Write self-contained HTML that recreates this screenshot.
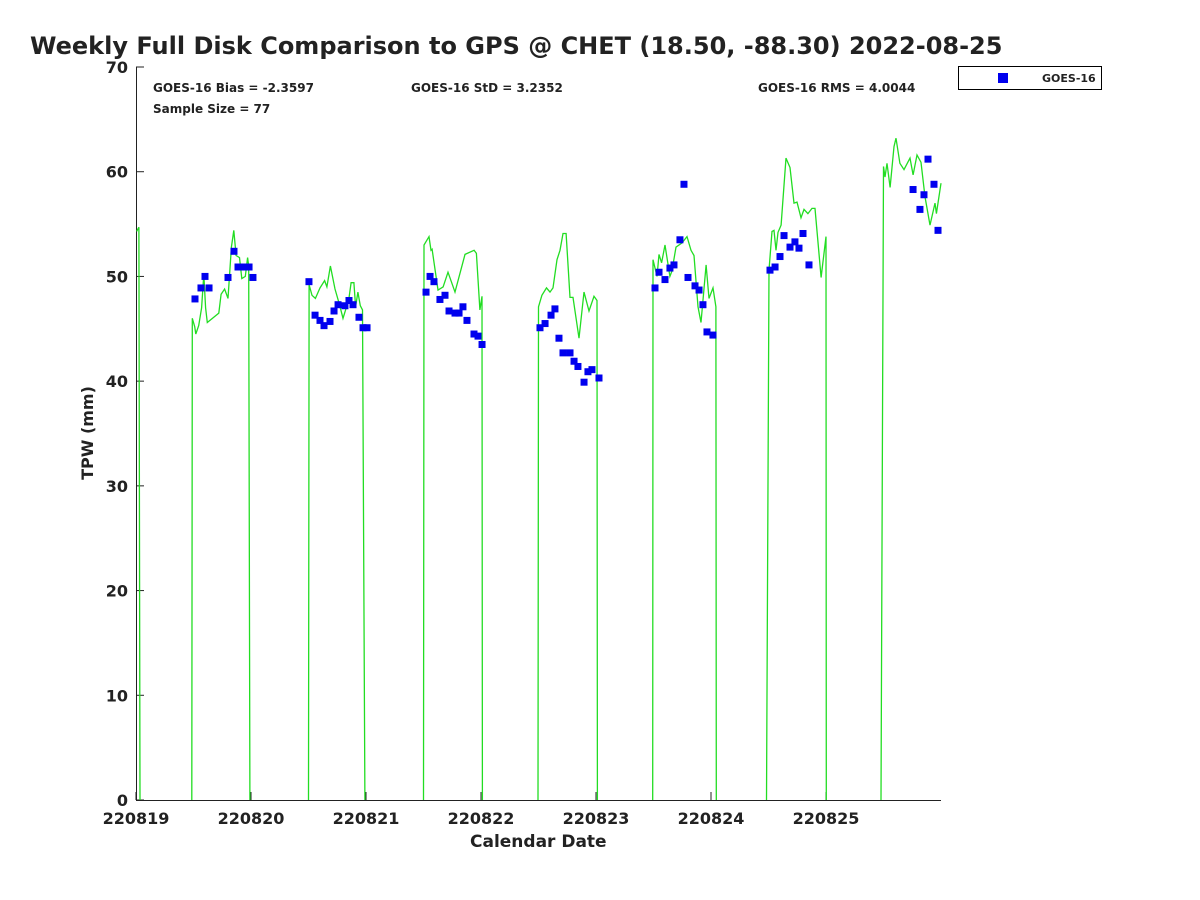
<!DOCTYPE html>
<html><head><meta charset="utf-8"><style>
html,body{margin:0;padding:0;background:#fff;width:1200px;height:900px;overflow:hidden}
svg text{font-family:"DejaVu Sans","Liberation Sans",sans-serif;font-weight:bold;fill:#222}
</style></head><body>
<svg id="chart" width="1200" height="900" xmlns="http://www.w3.org/2000/svg">
<text x="30" y="54" font-size="24" fill="#000">Weekly Full Disk Comparison to GPS @ CHET (18.50, -88.30) 2022-08-25</text>
<text x="153" y="92" font-size="12">GOES-16 Bias = -2.3597</text>
<text x="411" y="92" font-size="12">GOES-16 StD = 3.2352</text>
<text x="758" y="92" font-size="12">GOES-16 RMS = 4.0044</text>
<text x="153" y="113" font-size="12">Sample Size = 77</text>
<g>
<rect x="958.5" y="66.5" width="143" height="23" fill="#fff" stroke="#000"/>
<rect x="998" y="73" width="10" height="10" fill="#0000ee"/>
<text x="1042" y="82" font-size="11">GOES-16</text>
</g>
<text x="470" y="847" font-size="17">Calendar Date</text>
<text transform="translate(93,433) rotate(-90)" text-anchor="middle" font-size="16">TPW (mm)</text>
<g id="axes"></g>
<g id="marks"></g>
</svg>
<script>
const xTickLabels=["220819","220820","220821","220822","220823","220824","220825"];
const yTicks=[0,10,20,30,40,50,60,70];
const gpsSegments=[
[[0.005,54.3],[0.025,54.7],[0.035,0]],
[[0.485,0],[0.49,46.0],[0.51,45.2],[0.52,44.5],[0.545,45.3],[0.57,47],[0.59,50.2],[0.605,47],[0.62,45.6],[0.72,46.5],[0.74,48.3],[0.77,48.8],[0.8,47.9],[0.83,52.8],[0.85,54.4],[0.87,52],[0.9,51.8],[0.92,49.8],[0.95,50],[0.97,51.8],[0.98,51],[0.99,0]],
[[1.5,0],[1.505,49.2],[1.53,48.2],[1.56,47.9],[1.6,48.9],[1.64,49.6],[1.66,49.0],[1.69,51.0],[1.73,48.8],[1.77,47.3],[1.8,46.0],[1.85,47.8],[1.87,49.4],[1.895,49.4],[1.91,47.1],[1.93,48.5],[1.95,47.2],[1.97,46.8],[1.99,0]],
[[2.5,0],[2.504,53],[2.548,53.8],[2.565,52.5],[2.575,52.6],[2.626,48.7],[2.67,49],[2.713,50.4],[2.774,48.5],[2.861,52.1],[2.94,52.5],[2.96,52.2],[2.99,46.8],[3.009,48.1],[3.012,0]],
[[3.496,0],[3.5,47.1],[3.53,48.2],[3.57,48.9],[3.6,48.5],[3.626,48.9],[3.661,51.6],[3.687,52.5],[3.713,54.1],[3.74,54.1],[3.774,48.0],[3.8,48.0],[3.852,44.1],[3.896,48.5],[3.939,46.7],[3.983,48.1],[4.009,47.7],[4.012,0]],
[[4.493,0],[4.496,51.6],[4.53,50],[4.548,52.1],[4.57,51.3],[4.6,53],[4.643,50],[4.66,50.5],[4.696,52.8],[4.748,53.2],[4.791,53.8],[4.826,52.5],[4.852,52],[4.887,47.1],[4.913,45.6],[4.957,51.1],[4.983,47.9],[5.017,48.9],[5.043,47.1],[5.046,0]],
[[5.483,0],[5.504,50.6],[5.53,54.3],[5.548,54.4],[5.565,52.5],[5.583,54.2],[5.61,54.9],[5.652,61.3],[5.687,60.4],[5.722,57],[5.748,57.1],[5.783,55.6],[5.809,56.4],[5.843,56],[5.878,56.5],[5.904,56.5],[5.957,49.9],[6.0,53.8],[6.003,0]],
[[6.478,0],[6.5,60.5],[6.513,59.5],[6.53,60.8],[6.557,58.5],[6.591,62.4],[6.609,63.2],[6.643,60.8],[6.678,60.2],[6.73,61.3],[6.757,59.7],[6.791,61.6],[6.826,60.9],[6.861,57.6],[6.904,54.9],[6.948,57],[6.96,56],[7.0,58.9]]
];
const goesDays=[0.513,0.565,0.6,0.635,0.8,0.852,0.887,0.93,0.983,1.017,
1.504,1.557,1.6,1.635,1.687,1.722,1.757,1.817,1.852,1.887,1.939,1.974,2.009,
2.522,2.557,2.591,2.643,2.687,2.722,2.774,2.809,2.843,2.878,2.939,2.974,3.009,
3.513,3.557,3.609,3.643,3.678,3.713,3.774,3.809,3.843,3.896,3.93,3.965,4.026,
4.513,4.548,4.6,4.643,4.678,4.73,4.765,4.8,4.861,4.896,4.93,4.965,5.017,
5.513,5.557,5.6,5.635,5.687,5.73,5.765,5.8,5.852,
6.757,6.817,6.852,6.887,6.939,6.974];
const goesTPW=[47.85,48.9,50.0,48.9,49.9,52.4,50.9,50.9,50.9,49.9,
49.5,46.3,45.8,45.3,45.7,46.7,47.3,47.2,47.7,47.3,46.1,45.1,45.1,
48.5,50.0,49.5,47.8,48.2,46.7,46.5,46.5,47.1,45.8,44.5,44.3,43.5,
45.1,45.5,46.3,46.9,44.1,42.7,42.7,41.9,41.4,39.9,40.9,41.1,40.3,
48.9,50.4,49.7,50.8,51.1,53.5,58.8,49.9,49.1,48.7,47.3,44.7,44.4,
50.6,50.9,51.9,53.9,52.8,53.3,52.7,54.1,51.1,
58.3,56.4,57.8,61.2,58.8,54.4];
const NS="http://www.w3.org/2000/svg";
const X0=136,X1=941,Y0=800,Y1=67;
const xs=d=>X0+(X1-X0)*d/7;
const ys=v=>Y0-(Y0-Y1)*v/70;
function mk(tag,attrs,parent){const e=document.createElementNS(NS,tag);for(const k in attrs)e.setAttribute(k,attrs[k]);parent.appendChild(e);return e;}
const axes=document.getElementById('axes'),marks=document.getElementById('marks');
let e=mk('path',{d:`M${X0+0.5},${Y1} V${Y0+0.5} H${X1}`,fill:'none',stroke:'#222','stroke-width':1},axes);


yTicks.forEach(v=>{
 const y=ys(v);
 let t=mk('line',{x1:X0,x2:X0+8,y1:y,y2:y,stroke:'#222'},axes);
 
 
 let l=mk('text',{x:X0-8,y:y+6,'text-anchor':'end','font-size':16},axes);
 l.textContent=v;
 
 
});
xTickLabels.forEach((s,i)=>{
 const x=xs(i);
 let t=mk('line',{x1:x,x2:x,y1:Y0,y2:Y0-8,stroke:'#222'},axes);
 
 
 let l=mk('text',{x:x,y:Y0+24,'text-anchor':'middle','font-size':16},axes);
 l.textContent=s;
 
 
});
gpsSegments.forEach(seg=>{
 let p=mk('polyline',{points:seg.map(q=>xs(q[0]).toFixed(1)+','+ys(q[1]).toFixed(1)).join(' '),fill:'none',stroke:'#22dd22','stroke-width':1.3},marks);
 
 
});
goesDays.forEach((d,i)=>{
 let r=mk('rect',{x:xs(d)-3.5,y:ys(goesTPW[i])-3.5,width:7,height:7,fill:'#0000ee'},marks);
 
 
});
</script>
</body></html>
